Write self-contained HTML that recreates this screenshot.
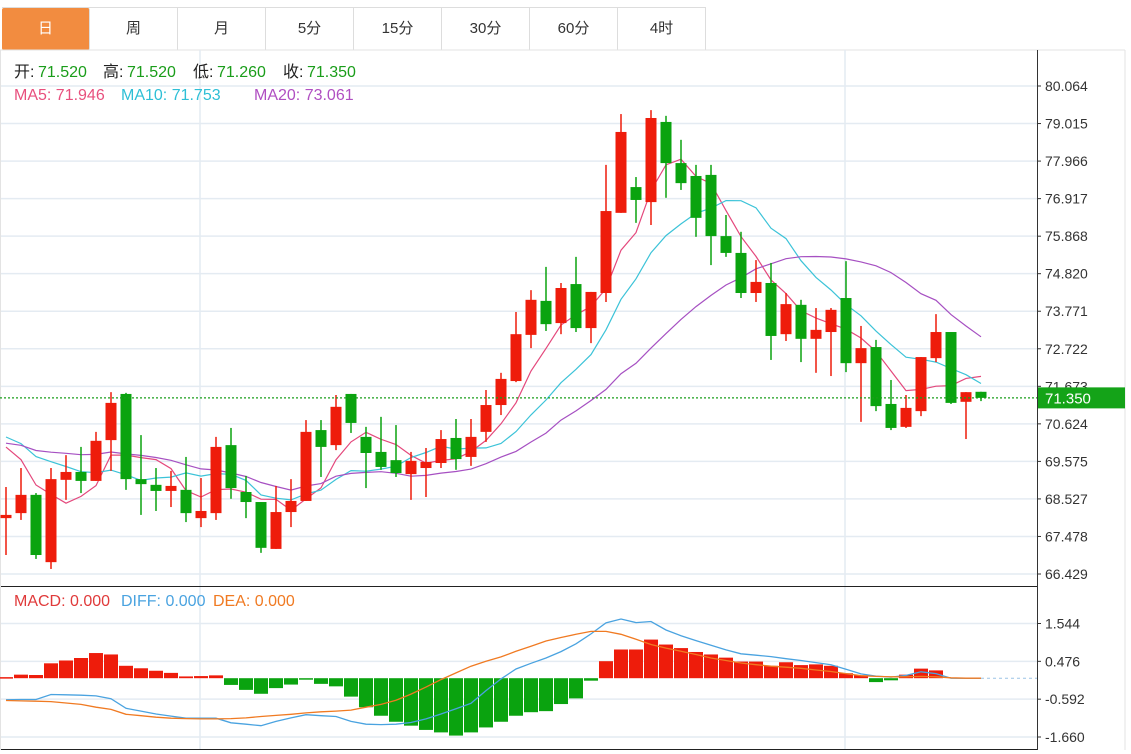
<!DOCTYPE html>
<html><head><meta charset="utf-8">
<style>
html,body{margin:0;padding:0;background:#fff;width:1131px;height:754px;overflow:hidden;font-family:"Liberation Sans","Noto Sans CJK SC",sans-serif;}
.tabs{position:absolute;left:2px;top:7px;height:42px;display:flex;border-top:1px solid #ddd;}
.tab{width:87px;height:42px;border-right:1px solid #ddd;line-height:42px;text-align:center;font-size:15px;color:#333;}
.tab.active{background:#f28c40;color:#fff;border-radius:2px;}
svg{position:absolute;left:0;top:0;}
</style></head><body>
<div class="tabs">
<div class="tab active">日</div>
<div class="tab">周</div>
<div class="tab">月</div>
<div class="tab">5分</div>
<div class="tab">15分</div>
<div class="tab">30分</div>
<div class="tab">60分</div>
<div class="tab">4时</div>
</div>
<svg id="chart" width="1131" height="754"></svg>
<script>
const prevCloses=[69.8,69.9,70.0,69.9,69.8,70.0,69.9,70.1,69.8,69.9,70.5,70.6,70.5,70.6,70.5,70.4,70.5,70.4,70.5];
const opens=[67.99,68.13,68.64,66.76,69.06,69.28,69.03,70.17,71.46,69.08,68.92,68.75,68.78,67.99,68.13,70.03,68.72,68.44,67.13,68.16,68.47,70.45,70.03,71.46,70.26,69.84,69.61,69.22,69.39,69.53,70.23,69.7,70.4,71.15,71.82,73.11,74.06,73.44,74.53,73.3,74.28,76.52,77.24,76.82,79.06,77.91,77.55,77.58,75.87,75.4,74.28,74.56,73.13,73.95,73.0,73.19,74.14,72.32,72.77,71.18,70.54,70.98,72.46,73.19,71.24,71.52];
const highs=[68.86,69.39,68.69,69.39,69.75,69.98,70.4,71.51,71.49,70.31,69.39,69.31,69.7,69.11,70.26,70.51,69.17,68.44,68.89,69.08,70.73,70.73,71.43,71.46,70.54,70.82,70.59,69.84,69.95,70.45,70.76,70.76,71.57,72.05,73.75,74.36,75.01,74.56,75.29,74.31,77.86,79.28,77.52,79.39,79.23,78.56,77.86,77.86,76.46,75.99,75.2,75.12,74.28,74.09,73.86,73.86,75.17,73.36,72.97,71.85,71.43,72.49,73.69,73.19,71.51,71.52];
const lows=[66.96,67.94,66.85,66.57,68.5,68.69,69.03,69.31,68.78,68.08,68.19,68.3,67.88,67.74,67.94,68.53,67.99,67.02,67.13,67.74,68.47,69.14,69.89,70.37,68.83,69.34,69.14,68.5,68.58,69.39,69.34,69.45,70.12,70.87,71.79,72.74,73.22,73.13,73.19,72.88,74.03,76.52,76.24,76.18,76.94,77.16,75.85,75.06,75.29,74.14,74.03,72.41,72.94,72.35,72.05,71.96,72.07,70.68,70.98,70.45,70.51,70.84,72.35,71.18,70.2,71.26];
const closes=[68.08,68.64,66.96,69.08,69.28,69.03,70.15,71.21,69.08,68.94,68.75,68.89,68.13,68.19,69.98,68.83,68.44,67.16,68.16,68.47,70.4,69.98,71.1,70.65,69.81,69.42,69.25,69.59,69.56,70.2,69.64,70.26,71.15,71.88,73.13,74.09,73.41,74.42,73.3,74.31,76.57,78.78,76.88,79.17,77.91,77.35,76.38,75.87,75.4,74.28,74.59,73.08,73.97,73.0,73.25,73.81,72.32,72.74,71.12,70.51,71.07,72.49,73.19,71.21,71.51,71.35];
const macdBars=[0.03,0.1,0.09,0.42,0.5,0.57,0.71,0.67,0.35,0.28,0.21,0.15,0.05,0.06,0.08,-0.19,-0.33,-0.44,-0.28,-0.18,-0.03,-0.16,-0.23,-0.52,-0.82,-1.06,-1.23,-1.34,-1.46,-1.53,-1.62,-1.53,-1.39,-1.23,-1.06,-0.96,-0.93,-0.73,-0.57,-0.07,0.48,0.81,0.81,1.09,0.95,0.85,0.74,0.67,0.58,0.47,0.47,0.35,0.45,0.37,0.39,0.35,0.14,0.08,-0.11,-0.06,0.1,0.27,0.22,0,0,0];
const diffLine=[-0.61,-0.6,-0.6,-0.46,-0.47,-0.48,-0.5,-0.58,-0.85,-0.93,-1.01,-1.07,-1.13,-1.13,-1.13,-1.26,-1.3,-1.34,-1.22,-1.12,-1.03,-1.06,-1.08,-1.22,-1.3,-1.31,-1.3,-1.25,-1.15,-1.01,-0.86,-0.71,-0.35,-0.02,0.26,0.42,0.57,0.75,0.97,1.25,1.56,1.67,1.57,1.6,1.36,1.2,1.06,0.93,0.8,0.69,0.65,0.61,0.55,0.5,0.44,0.38,0.25,0.12,0.06,0.03,0.08,0.18,0.13,0,0,0];
const deaLine=[-0.63,-0.64,-0.65,-0.66,-0.7,-0.74,-0.82,-0.88,-1.02,-1.06,-1.1,-1.13,-1.14,-1.15,-1.15,-1.14,-1.12,-1.08,-1.05,-1.02,-0.98,-0.95,-0.93,-0.9,-0.82,-0.74,-0.62,-0.45,-0.25,-0.04,0.15,0.34,0.48,0.6,0.76,0.9,1.05,1.15,1.24,1.32,1.32,1.24,1.1,0.95,0.85,0.76,0.67,0.57,0.5,0.43,0.38,0.34,0.31,0.28,0.23,0.19,0.13,0.07,0.05,0.04,0.04,0.05,0.04,0.01,0,0];
const priceTicks=["80.064","79.015","77.966","76.917","75.868","74.820","73.771","72.722","71.673","70.624","69.575","68.527","67.478","66.429"];
const macdTicks=["1.544","0.476","-0.592","-1.660"];

const NS="http://www.w3.org/2000/svg";
const svg=document.getElementById('chart');
function mk(tag,attrs,parent){const e=document.createElementNS(NS,tag);for(const k in attrs)e.setAttribute(k,attrs[k]);(parent||svg).appendChild(e);return e;}
const pMax=80.064,pMin=66.429,pTop=86,pBot=574;
function yP(v){return pTop+(pMax-v)*(pBot-pTop)/(pMax-pMin);}
const mTop=623.5,mBot=737,mMax=1.544,mMin=-1.660;
function yM(v){return mTop+(mMax-v)*(mBot-mTop)/(mMax-mMin);}
function xI(i){return 6+i*15;}
const RED="#ee1c0b",GREEN="#0aa30f";

let e;
e=mk('line',{x1:0,y1:50,x2:1125,y2:50,stroke:'#e3e3e3'});

e=mk('line',{x1:1125,y1:50,x2:1125,y2:750,stroke:'#e3e3e3'});

[200,845].forEach(x=>{e=mk('line',{x1:x,y1:50,x2:x,y2:750,stroke:'#e4ebf2','stroke-width':1.5});
});
priceTicks.forEach(t=>{const y=yP(parseFloat(t));
e=mk('line',{x1:0,y1:y,x2:1037,y2:y,stroke:'#e4ebf2','stroke-width':1.5});

e=mk('line',{x1:1037,y1:y,x2:1041,y2:y,stroke:'#333'});

e=mk('text',{x:1045,y:y+5,'font-size':14,fill:'#333','font-family':'Liberation Sans, sans-serif'});e.textContent=t;
});
macdTicks.forEach(t=>{const y=yM(parseFloat(t));
e=mk('line',{x1:0,y1:y,x2:1037,y2:y,stroke:'#e4ebf2','stroke-width':1.5});

e=mk('line',{x1:1037,y1:y,x2:1041,y2:y,stroke:'#333'});

e=mk('text',{x:1045,y:y+5,'font-size':14,fill:'#333','font-family':'Liberation Sans, sans-serif'});e.textContent=t;
});
e=mk('line',{x1:1037.5,y1:50,x2:1037.5,y2:750,stroke:'#333'});

e=mk('line',{x1:0,y1:586.5,x2:1037,y2:586.5,stroke:'#222'});

e=mk('line',{x1:0,y1:749.5,x2:1037,y2:749.5,stroke:'#222'});

e=mk('line',{x1:0.5,y1:50,x2:0.5,y2:750,stroke:'#e3e3e3'});


const all=prevCloses.concat(closes);const off=prevCloses.length;
function ma(n){return closes.map((c,i)=>{let s=0,k=0;for(let j=off+i;j>off+i-n&&j>=0;j--){s+=all[j];k++;}return s/k;});}
[[5,'#e4487c','ma5-line'],[10,'#3cc3d8','ma10-line'],[20,'#a650c2','ma20-line']].forEach(([n,col,nm])=>{
const m=ma(n);const d=m.map((v,i)=>(i?'L':'M')+xI(i)+','+yP(v).toFixed(1)).join(' ');
const p=mk('path',{d:d,fill:'none',stroke:col,'stroke-width':1.2});

});

closes.forEach((c,i)=>{const o=opens[i],up=c>=o,col=up?RED:GREEN,x=xI(i);
const w=mk('line',{x1:x,y1:yP(highs[i]),x2:x,y2:yP(lows[i]),stroke:col,'stroke-width':1.5});


const t=yP(Math.max(o,c)),b=yP(Math.min(o,c));
const r=mk('rect',{x:x-5.5,y:t,width:11,height:Math.max(1.5,b-t),fill:col});

});

const lp=closes[closes.length-1];
e=mk('line',{x1:0,y1:yP(lp),x2:1037,y2:yP(lp),stroke:'#1a9d1a','stroke-dasharray':'2,2','stroke-width':1.2});

e=mk('rect',{x:1038,y:yP(lp)-10.5,width:87,height:21,fill:'#14a318'});

e=mk('text',{x:1045,y:yP(lp)+5.5,'font-size':15,fill:'#fff','font-family':'Liberation Sans, sans-serif'});e.textContent=lp.toFixed(3);


macdBars.forEach((v,i)=>{if(v===0)return;const x=xI(i),y0=yM(0),y1=yM(v);
const r=mk('rect',{x:x-7,y:Math.min(y0,y1),width:14,height:Math.max(1.5,Math.abs(y1-y0)),fill:v>0?RED:GREEN});

});
e=mk('line',{x1:xI(macdBars.length-1),y1:yM(0),x2:1037,y2:yM(0),stroke:'#9cc3e6','stroke-dasharray':'3,3'});

[[diffLine,'#4aa3e0','diff-line'],[deaLine,'#f07a22','dea-line']].forEach(([arr,col,nm])=>{
const d=arr.map((v,i)=>(i?'L':'M')+xI(i)+','+yM(v).toFixed(1)).join(' ');
const p=mk('path',{d:d,fill:'none',stroke:col,'stroke-width':1.3});

});

function legend(y,parts,name){
parts.forEach(([s,col,x])=>{const t=mk('text',{x:x,y:y,'font-size':16,fill:col,'font-family':'Liberation Sans, Noto Sans CJK SC, sans-serif'});
t.textContent=s;});}
legend(77,[['开:','#222',14],['71.520','#1a9d1a',38],['高:','#222',103],['71.520','#1a9d1a',127],['低:','#222',193],['71.260','#1a9d1a',217],['收:','#222',283],['71.350','#1a9d1a',307]],'ohlc-legend');
legend(100,[['MA5: 71.946','#e8507e',14],['MA10: 71.753','#2ebfd6',121],['MA20: 73.061','#b04fc2',254]],'ma-legend');
legend(606,[['MACD: 0.000','#e03a3a',14],['DIFF: 0.000','#4aa3e0',121],['DEA: 0.000','#f07a22',213]],'macd-legend');
</script>
</body></html>
